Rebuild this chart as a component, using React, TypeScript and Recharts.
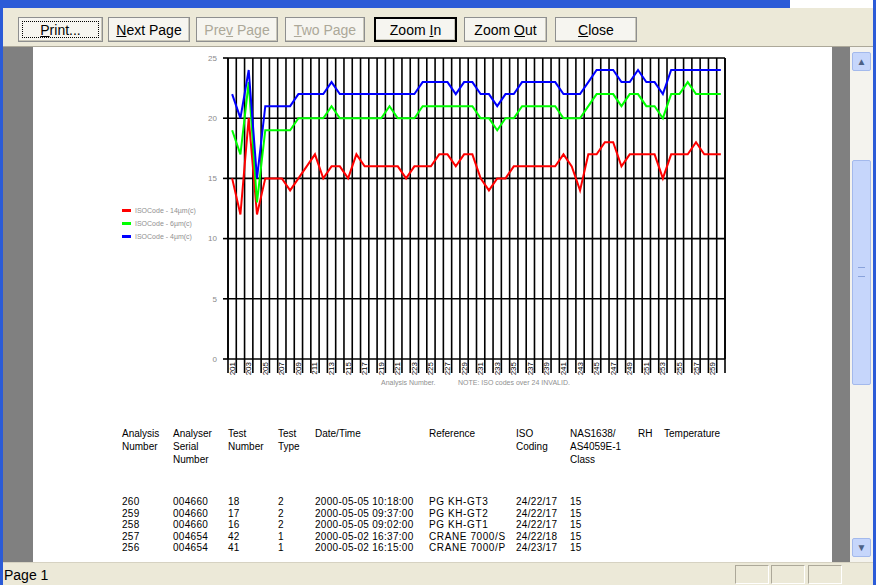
import React from "react";
import { LineChart, Line, XAxis, YAxis, CartesianGrid } from "recharts";

// analysis numbers along the x axis (oldest first)
const analysisNumbers = [
  201, 202, 203, 204, 205, 206, 207, 208, 209, 210,
  211, 212, 213, 214, 215, 216, 217, 218, 219, 220,
  221, 222, 223, 224, 225, 226, 227, 228, 229, 230,
  231, 232, 233, 234, 235, 236, 237, 238, 239, 240,
  241, 242, 243, 244, 245, 246, 247, 248, 249, 250,
  251, 252, 253, 254, 255, 256, 257, 258, 259, 260,
];

// ISO codes
const iso14 = [
  15, 12, 20, 12, 15, 15, 15, 14, 15, 16,
  17, 15, 16, 16, 15, 17, 16, 16, 16, 16,
  16, 15, 16, 16, 16, 17, 17, 16, 17, 17,
  15, 14, 15, 15, 16, 16, 16, 16, 16, 16,
  17, 16, 14, 17, 17, 18, 18, 16, 17, 17,
  17, 17, 15, 17, 17, 17, 18, 17, 17, 17,
];
const iso6 = [
  19, 17, 23, 13, 19, 19, 19, 19, 20, 20,
  20, 20, 21, 20, 20, 20, 20, 20, 20, 21,
  20, 20, 20, 21, 21, 21, 21, 21, 21, 21,
  20, 20, 19, 20, 20, 21, 21, 21, 21, 21,
  20, 20, 20, 21, 22, 22, 22, 21, 22, 22,
  21, 21, 20, 22, 22, 23, 22, 22, 22, 22,
];
const iso4 = [
  22, 20, 24, 15, 21, 21, 21, 21, 22, 22,
  22, 22, 23, 22, 22, 22, 22, 22, 22, 22,
  22, 22, 22, 23, 23, 23, 23, 22, 23, 23,
  22, 22, 21, 22, 22, 23, 23, 23, 23, 23,
  22, 22, 22, 23, 24, 24, 24, 23, 23, 24,
  23, 23, 22, 24, 24, 24, 24, 24, 24, 24,
];

const yTicks = [0, 5, 10, 15, 20, 25];
const seriesKeys = ["c14", "c6", "c4"];
const seriesNames = ["ISOCode - 14µm(c)", "ISOCode - 6µm(c)", "ISOCode - 4µm(c)"];
const seriesColors = ["#ff0000", "#00ff00", "#0000ff"];

const tableHeaders = [
  ["Analysis", "Number"],
  ["Analyser", "Serial", "Number"],
  ["Test", "Number"],
  ["Test", "Type"],
  ["Date/Time"],
  ["Reference"],
  ["ISO", "Coding"],
  ["NAS1638/", "AS4059E-1", "Class"],
  ["RH"],
  ["Temperature"],
];
const tableRows = [
  ["260", "004660", "18", "2", "2000-05-05 10:18:00", "PG KH-GT3", "24/22/17", "15"],
  ["259", "004660", "17", "2", "2000-05-05 09:37:00", "PG KH-GT2", "24/22/17", "15"],
  ["258", "004660", "16", "2", "2000-05-05 09:02:00", "PG KH-GT1", "24/22/17", "15"],
  ["257", "004654", "42", "1", "2000-05-02 16:37:00", "CRANE 7000/S", "24/22/18", "15"],
  ["256", "004654", "41", "1", "2000-05-02 16:15:00", "CRANE 7000/P", "24/23/17", "15"],
];
const colX = [122, 173, 228, 278, 315, 429, 516, 570, 638, 664];

const buttons = [
  { pre: "", key: "P", post: "rint...", x: 18, w: 85, focus: true },
  { pre: "", key: "N", post: "ext Page", x: 108, w: 82 },
  { pre: "Pre", key: "v", post: " Page", x: 196, w: 82, disabled: true },
  { pre: "", key: "T", post: "wo Page", x: 285, w: 80, disabled: true },
  { pre: "Zoom ", key: "I", post: "n", x: 374, w: 83, def: true },
  { pre: "Zoom ", key: "O", post: "ut", x: 464, w: 83 },
  { pre: "", key: "C", post: "lose", x: 555, w: 82 },
];

const N = analysisNumbers.length;
const data = analysisNumbers.map((num, i) => ({
  idx: i,
  num,
  c14: iso14[i],
  c6: iso6[i],
  c4: iso4[i],
}));
const labelTicks = analysisNumbers.map((_, i) => i).filter((i) => i % 2 === 0);
const edges = Array.from({ length: N + 1 }, (_, i) => i - 0.5);

const font = "'Liberation Sans', Arial, sans-serif";

const gridX = (props: any) => {
  const s = props.xAxis && props.xAxis.scale;
  return edges.map((e) =>
    typeof s === "function"
      ? s(e)
      : props.offset.left + (props.offset.width * (e + 0.5)) / N
  );
};

const NoLabel = () => <g />;

const AnalysisTick = (props: any) => {
  const { x, y, payload } = props;
  return (
    <text
      x={x}
      y={y}
      transform={`rotate(-90 ${x} ${y})`}
      textAnchor="end"
      dominantBaseline="central"
      fontSize={8}
      fontFamily={font}
      fill="#000"
    >
      {analysisNumbers[payload.value]}
    </text>
  );
};

const abs = (l: number, t: number, w: number, h: number, extra: any = {}) => ({
  position: "absolute" as const,
  left: l,
  top: t,
  width: w,
  height: h,
  ...extra,
});

const ToolButton = ({ b }: { b: any }) => (
  <div
    style={abs(b.x, 17, b.w, 25, {
      boxSizing: "border-box",
      background: "#f6f5f0",
      border: b.def ? "2px solid #000" : "1px solid #8e8f8f",
      boxShadow: "inset -1px -1px 0 #c9c7ba",
      fontFamily: font,
      fontSize: 14,
      color: b.disabled ? "#aca899" : "#000",
      display: "flex",
      alignItems: "center",
      justifyContent: "center",
    })}
  >
    {b.focus && (
      <div style={abs(3, 3, b.w - 8, 17, { border: "1px dotted #000", boxSizing: "border-box" })} />
    )}
    <span>
      {b.pre}
      <u>{b.key}</u>
      {b.post}
    </span>
  </div>
);

export default function App() {
  return (
    <div style={{ position: "fixed", left: 0, top: 0, width: 876, height: 585, background: "#ece9d8", overflow: "hidden" }}>
      {/* frame */}
      <div style={abs(0, 0, 790, 8, { background: "#2b5bd7" })} />
      <div style={abs(790, 0, 86, 8, { background: "#fff", borderBottom: "1px solid #7a96df" })} />
      <div style={abs(0, 0, 3, 585, { background: "#2b5bd7" })} />
      <div style={abs(873, 0, 3, 585, { background: "#2b5bd7" })} />

      {/* toolbar */}
      <div style={abs(3, 8, 870, 38, { background: "#ece9d8", borderBottom: "1px solid #aca899" })} />
      {buttons.map((b) => (
        <ToolButton key={b.x} b={b} />
      ))}

      {/* preview area */}
      <div style={abs(3, 47, 847, 515, { background: "#808080" })} />
      <div style={abs(33, 47, 799, 515, { background: "#fff" })} />

      {/* scrollbar */}
      <div style={abs(850, 47, 23, 515, { background: "#f4f3ee" })} />
      <div style={abs(852, 52, 19, 19, { background: "#c6d6fb", border: "1px solid #a3b9ec", borderRadius: 2, boxSizing: "border-box", color: "#4d6185", fontSize: 10, textAlign: "center", lineHeight: "17px", fontFamily: font })}>▲</div>
      <div style={abs(852, 160, 19, 225, { background: "#c6d6fb", border: "1px solid #a3b9ec", borderRadius: 2, boxSizing: "border-box" })}>
        <div style={abs(5, 106, 7, 8, { borderTop: "1px solid #8aa3db", borderBottom: "1px solid #8aa3db" })} />
      </div>
      <div style={abs(852, 538, 19, 19, { background: "#c6d6fb", border: "1px solid #a3b9ec", borderRadius: 2, boxSizing: "border-box", color: "#4d6185", fontSize: 10, textAlign: "center", lineHeight: "17px", fontFamily: font })}>▼</div>

      {/* status bar */}
      <div style={abs(3, 562, 870, 23, { background: "#ece9d8", borderTop: "1px solid #d6d2c2" })} />
      <div style={abs(4, 567, 80, 16, { fontFamily: font, fontSize: 14, color: "#000" })}>Page 1</div>
      {[735, 771, 808].map((x) => (
        <div key={x} style={abs(x, 565, 34, 19, { border: "1px solid #aca899", borderRightColor: "#fff", borderBottomColor: "#fff", boxSizing: "border-box" })} />
      ))}

      {/* chart */}
      <div style={abs(110, 50, 660, 345)}>
        <LineChart width={660} height={345} data={data} margin={{ top: 8, right: 20, bottom: 34, left: 93 }}>
          <CartesianGrid
            xAxisId="main"
            yAxisId="l"
            stroke="#000"
            strokeWidth={1.6}
            verticalCoordinatesGenerator={gridX}
          />
          <XAxis
            xAxisId="edges"
            type="number"
            dataKey="idx"
            domain={[-0.5, N - 0.5]}
            ticks={edges}
            interval={0}
            tick={<NoLabel />}
            tickSize={14}
            tickLine={{ stroke: "#000", strokeWidth: 1.6 }}
            axisLine={false}
            height={1}
          />
          <XAxis
            xAxisId="main"
            type="number"
            dataKey="idx"
            domain={[-0.5, N - 0.5]}
            ticks={labelTicks}
            interval={0}
            tick={<AnalysisTick />}
            tickLine={false}
            tickSize={0}
            tickMargin={2}
            axisLine={false}
            height={1}
          />
          <YAxis
            yAxisId="l"
            domain={[0, 25]}
            ticks={yTicks}
            width={25}
            tickSize={5}
            tickMargin={6}
            tick={{ fontSize: 8, fill: "#8a8a8a", fontFamily: font }}
            axisLine={{ stroke: "#000", strokeWidth: 1.6 }}
            tickLine={{ stroke: "#000", strokeWidth: 1.6 }}
          />
          <YAxis
            yAxisId="r"
            orientation="right"
            domain={[0, 25]}
            ticks={yTicks}
            width={25}
            tickSize={5}
            tickMargin={3}
            tick={{ fontSize: 8, fill: "#8a8a8a", fontFamily: font }}
            axisLine={{ stroke: "#000", strokeWidth: 1.6 }}
            tickLine={{ stroke: "#000", strokeWidth: 1.6 }}
          />
          {seriesKeys.map((k, i) => (
            <Line
              key={k}
              xAxisId="main"
              yAxisId="l"
              type="linear"
              dataKey={k}
              name={seriesNames[i]}
              stroke={seriesColors[i]}
              strokeWidth={2}
              dot={false}
              activeDot={false}
              isAnimationActive={false}
            />
          ))}
        </LineChart>
      </div>

      {/* legend */}
      {seriesNames.map((n, i) => (
        <div key={n} style={abs(122, 206 + i * 13, 100, 10, { fontFamily: font, fontSize: 7, color: "#909090", lineHeight: "10px", whiteSpace: "nowrap" })}>
          <span style={{ display: "inline-block", width: 9, height: 3, background: seriesColors[i], verticalAlign: "middle", marginRight: 4, marginTop: -2 }} />
          {n}
        </div>
      ))}

      <div style={abs(381, 379, 60, 10, { fontFamily: font, fontSize: 7, color: "#909090", whiteSpace: "nowrap" })}>Analysis Number.</div>
      <div style={abs(458, 379, 130, 10, { fontFamily: font, fontSize: 7, color: "#909090", whiteSpace: "nowrap" })}>NOTE: ISO codes over 24 INVALID.</div>

      {/* table */}
      {tableHeaders.map((lines, c) => (
        <div key={c} style={abs(colX[c], 427, 80, 40, { fontFamily: font, fontSize: 10, lineHeight: "13px", color: "#000", whiteSpace: "nowrap" })}>
          {lines.map((l) => (
            <div key={l}>{l}</div>
          ))}
        </div>
      ))}
      {tableRows.map((row, r) =>
        row.map((cell, c) => (
          <div key={r + "-" + c} style={abs(colX[c], 496 + r * 11.6, 120, 12, { fontFamily: font, fontSize: 10, lineHeight: "12px", color: "#000", whiteSpace: "nowrap", letterSpacing: c === 5 ? 0.6 : 0.3 })}>
            {cell}
          </div>
        ))
      )}
    </div>
  );
}
